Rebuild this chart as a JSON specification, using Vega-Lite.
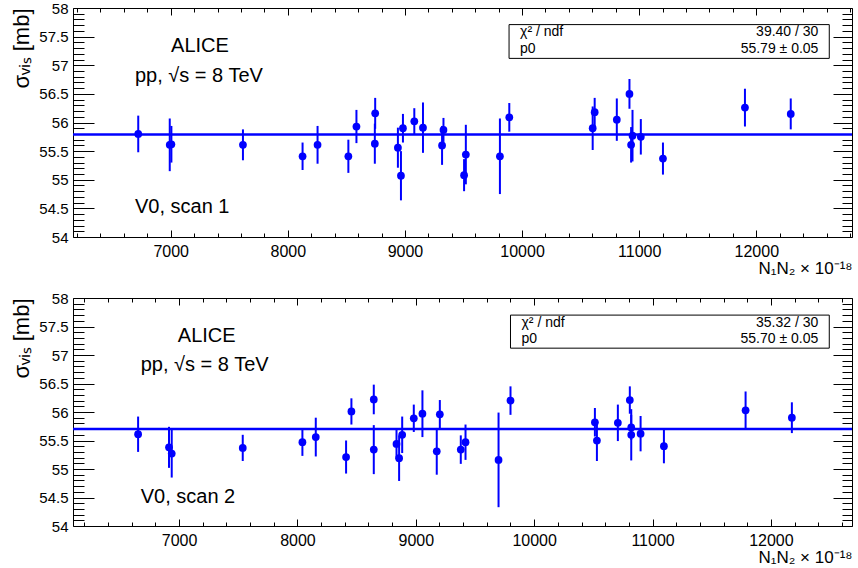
{
  "$schema": "https://vega.github.io/schema/vega-lite/v6.json",
  "background": "white",
  "padding": {"left": 10, "top": 0, "right": 0, "bottom": 0},
  "config": {
    "font": "Liberation Sans",
    "view": {"stroke": "black", "strokeWidth": 1},
    "axis": {"domain": false, "grid": false, "tickColor": "black", "labelColor": "black", "titleColor": "black", "tickWidth": 1, "titleFontWeight": "normal"}
  },
  "datasets": {
    "scan1": [
      {"x": 6723, "y": 55.80, "e": 0.32},
      {"x": 6992, "y": 55.61, "e": 0.46},
      {"x": 7006, "y": 55.62, "e": 0.32},
      {"x": 7617, "y": 55.61, "e": 0.27},
      {"x": 8126, "y": 55.41, "e": 0.24},
      {"x": 8254, "y": 55.61, "e": 0.33},
      {"x": 8517, "y": 55.41, "e": 0.29},
      {"x": 8586, "y": 55.93, "e": 0.29},
      {"x": 8746, "y": 56.16, "e": 0.27},
      {"x": 8743, "y": 55.63, "e": 0.35},
      {"x": 8940, "y": 55.56, "e": 0.35},
      {"x": 8966, "y": 55.07, "e": 0.43},
      {"x": 8983, "y": 55.90, "e": 0.25},
      {"x": 9080, "y": 56.02, "e": 0.23},
      {"x": 9154, "y": 55.91, "e": 0.44},
      {"x": 9317, "y": 55.60, "e": 0.34},
      {"x": 9329, "y": 55.87, "e": 0.21},
      {"x": 9505, "y": 55.08, "e": 0.28},
      {"x": 9520, "y": 55.44, "e": 0.52},
      {"x": 9811, "y": 55.41, "e": 0.66},
      {"x": 9891, "y": 56.09, "e": 0.25},
      {"x": 10603, "y": 55.90, "e": 0.38},
      {"x": 10620, "y": 56.18, "e": 0.25},
      {"x": 10809, "y": 56.05, "e": 0.37},
      {"x": 10917, "y": 56.50, "e": 0.26},
      {"x": 10931, "y": 55.61, "e": 0.31},
      {"x": 10943, "y": 55.77, "e": 0.45},
      {"x": 11014, "y": 55.75, "e": 0.31},
      {"x": 11203, "y": 55.37, "e": 0.28},
      {"x": 11903, "y": 56.26, "e": 0.33},
      {"x": 12294, "y": 56.15, "e": 0.27}
    ],
    "scan2": [
      {"x": 6654, "y": 55.61, "e": 0.31},
      {"x": 6915, "y": 55.38, "e": 0.36},
      {"x": 6938, "y": 55.27, "e": 0.42},
      {"x": 7538, "y": 55.37, "e": 0.23},
      {"x": 8042, "y": 55.47, "e": 0.24},
      {"x": 8155, "y": 55.56, "e": 0.34},
      {"x": 8411, "y": 55.21, "e": 0.29},
      {"x": 8456, "y": 56.01, "e": 0.23},
      {"x": 8645, "y": 56.22, "e": 0.26},
      {"x": 8645, "y": 55.34, "e": 0.43},
      {"x": 8837, "y": 55.44, "e": 0.26},
      {"x": 8859, "y": 55.19, "e": 0.40},
      {"x": 8885, "y": 55.60, "e": 0.32},
      {"x": 8983, "y": 55.89, "e": 0.24},
      {"x": 9056, "y": 55.97, "e": 0.41},
      {"x": 9177, "y": 55.31, "e": 0.41},
      {"x": 9203, "y": 55.96, "e": 0.25},
      {"x": 9380, "y": 55.34, "e": 0.25},
      {"x": 9420, "y": 55.47, "e": 0.31},
      {"x": 9699, "y": 55.16, "e": 0.83},
      {"x": 9800, "y": 56.20, "e": 0.25},
      {"x": 10513, "y": 55.82, "e": 0.25},
      {"x": 10530, "y": 55.50, "e": 0.36},
      {"x": 10707, "y": 55.81, "e": 0.32},
      {"x": 10808, "y": 56.21, "e": 0.24},
      {"x": 10820, "y": 55.73, "e": 0.22},
      {"x": 10820, "y": 55.60, "e": 0.45},
      {"x": 10899, "y": 55.62, "e": 0.31},
      {"x": 11096, "y": 55.40, "e": 0.30},
      {"x": 11786, "y": 56.03, "e": 0.33},
      {"x": 12177, "y": 55.90, "e": 0.27}
    ]
  },
  "vconcat": [
    {
      "width": 779,
      "height": 229,
      "resolve": {"axis": {"x": "independent", "y": "independent"}},
      "layer": [
        {
          "data": {"name": "scan1"},
          "mark": {"type": "errorbar", "ticks": false, "color": "#0000ff", "thickness": 2},
          "encoding": {
            "x": {"field": "x", "type": "quantitative", "scale": {"domain": [6166, 12817], "nice": false, "zero": false},
                  "axis": {"orient": "bottom", "values": [6200,6400,6600,6800,7200,7400,7600,7800,8200,8400,8600,8800,9200,9400,9600,9800,10200,10400,10600,10800,11200,11400,11600,11800,12200,12400,12600,12800], "tickSize": -4, "labels": false, "title": null}},
            "y": {"field": "y", "type": "quantitative", "scale": {"domain": [54, 58], "nice": false, "zero": false},
                  "axis": {"orient": "left", "values": [54.1,54.2,54.3,54.4,54.6,54.7,54.8,54.9,55.1,55.2,55.3,55.4,55.6,55.7,55.8,55.9,56.1,56.2,56.3,56.4,56.6,56.7,56.8,56.9,57.1,57.2,57.3,57.4,57.6,57.7,57.8,57.9], "tickSize": -11, "labels": false, "title": null}},
            "yError": {"field": "e"}
          }
        },
        {
          "data": {"name": "scan1"},
          "mark": {"type": "point", "filled": true, "size": 60, "color": "#0000ff", "opacity": 1},
          "encoding": {
            "x": {"field": "x", "type": "quantitative",
                  "axis": {"orient": "bottom", "values": [7000,8000,9000,10000,11000,12000], "format": "d", "tickSize": -7, "labelPadding": 13, "labelFontSize": 16, "title": "N₁N₂ × 10⁻¹⁸", "titleFontSize": 17, "titleAnchor": "end", "titlePadding": 1}},
            "y": {"field": "y", "type": "quantitative",
                  "axis": {"orient": "left", "values": [54,54.5,55,55.5,56,56.5,57,57.5,58], "format": ".1~f", "tickSize": -21, "labelPadding": 26, "labelFontSize": 15, "title": "σᵥᵢₛ [mb]", "titleFontSize": 22, "titleAnchor": "end", "titlePadding": 5}}
          }
        },
        {
          "data": {"name": "scan1"},
          "mark": {"type": "point", "opacity": 0},
          "encoding": {
            "x": {"field": "x", "type": "quantitative",
                  "axis": {"orient": "top", "values": [7000,8000,9000,10000,11000,12000], "tickSize": -7, "labels": false, "title": null}},
            "y": {"field": "y", "type": "quantitative",
                  "axis": {"orient": "right", "values": [54,54.5,55,55.5,56,56.5,57,57.5,58], "tickSize": -19, "labels": false, "title": null}}
          }
        },
        {
          "data": {"name": "scan1"},
          "mark": {"type": "point", "opacity": 0},
          "encoding": {
            "x": {"field": "x", "type": "quantitative",
                  "axis": {"orient": "top", "values": [6200,6400,6600,6800,7200,7400,7600,7800,8200,8400,8600,8800,9200,9400,9600,9800,10200,10400,10600,10800,11200,11400,11600,11800,12200,12400,12600,12800], "tickSize": -4, "labels": false, "title": null}},
            "y": {"field": "y", "type": "quantitative",
                  "axis": {"orient": "right", "values": [54.1,54.2,54.3,54.4,54.6,54.7,54.8,54.9,55.1,55.2,55.3,55.4,55.6,55.7,55.8,55.9,56.1,56.2,56.3,56.4,56.6,56.7,56.8,56.9,57.1,57.2,57.3,57.4,57.6,57.7,57.8,57.9], "tickSize": -10, "labels": false, "title": null}}
          }
        },
        {
          "data": {"values": [{}]},
          "mark": {"type": "rule", "color": "#0000ff", "strokeWidth": 2.5},
          "encoding": {"y": {"datum": 55.79, "type": "quantitative", "axis": null}}
        },
        {
          "data": {"values": [{}]},
          "mark": {"type": "rect", "fill": "white", "stroke": "black", "strokeWidth": 1},
          "encoding": {
            "x": {"datum": 9889, "type": "quantitative", "axis": null}, "x2": {"datum": 12623},
            "y": {"datum": 57.71, "type": "quantitative", "axis": null}, "y2": {"datum": 57.12}
          }
        },
        {
          "data": {"values": [{}]},
          "mark": {"type": "text", "text": "χ² / ndf", "align": "left", "baseline": "middle", "fontSize": 14, "color": "black"},
          "encoding": {"x": {"datum": 9983, "type": "quantitative", "axis": null}, "y": {"datum": 57.58, "type": "quantitative", "axis": null}}
        },
        {
          "data": {"values": [{}]},
          "mark": {"type": "text", "text": "p0", "align": "left", "baseline": "middle", "fontSize": 14, "color": "black"},
          "encoding": {"x": {"datum": 9983, "type": "quantitative", "axis": null}, "y": {"datum": 57.28, "type": "quantitative", "axis": null}}
        },
        {
          "data": {"values": [{}]},
          "mark": {"type": "text", "text": "39.40 / 30", "align": "right", "baseline": "middle", "fontSize": 14, "color": "black"},
          "encoding": {"x": {"datum": 12530, "type": "quantitative", "axis": null}, "y": {"datum": 57.58, "type": "quantitative", "axis": null}}
        },
        {
          "data": {"values": [{}]},
          "mark": {"type": "text", "text": "55.79 ± 0.05", "align": "right", "baseline": "middle", "fontSize": 14, "color": "black"},
          "encoding": {"x": {"datum": 12530, "type": "quantitative", "axis": null}, "y": {"datum": 57.28, "type": "quantitative", "axis": null}}
        },
        {
          "data": {"values": [{}]},
          "mark": {"type": "text", "text": "ALICE", "align": "center", "baseline": "middle", "fontSize": 20, "color": "black"},
          "encoding": {"x": {"datum": 7250, "type": "quantitative", "axis": null}, "y": {"datum": 57.34, "type": "quantitative", "axis": null}}
        },
        {
          "data": {"values": [{}]},
          "mark": {"type": "text", "text": "pp, √s = 8 TeV", "align": "left", "baseline": "middle", "fontSize": 20, "color": "black"},
          "encoding": {"x": {"datum": 6695, "type": "quantitative", "axis": null}, "y": {"datum": 56.82, "type": "quantitative", "axis": null}}
        },
        {
          "data": {"values": [{}]},
          "mark": {"type": "text", "text": "V0, scan 1", "align": "left", "baseline": "middle", "fontSize": 20, "color": "black"},
          "encoding": {"x": {"datum": 6695, "type": "quantitative", "axis": null}, "y": {"datum": 54.52, "type": "quantitative", "axis": null}}
        }
      ]
    },
    {
      "width": 779,
      "height": 228,
      "resolve": {"axis": {"x": "independent", "y": "independent"}},
      "layer": [
        {
          "data": {"name": "scan2"},
          "mark": {"type": "errorbar", "ticks": false, "color": "#0000ff", "thickness": 2},
          "encoding": {
            "x": {"field": "x", "type": "quantitative", "scale": {"domain": [6104, 12685], "nice": false, "zero": false},
                  "axis": {"orient": "bottom", "values": [6200,6400,6600,6800,7200,7400,7600,7800,8200,8400,8600,8800,9200,9400,9600,9800,10200,10400,10600,10800,11200,11400,11600,11800,12200,12400,12600], "tickSize": -4, "labels": false, "title": null}},
            "y": {"field": "y", "type": "quantitative", "scale": {"domain": [54, 58], "nice": false, "zero": false},
                  "axis": {"orient": "left", "values": [54.1,54.2,54.3,54.4,54.6,54.7,54.8,54.9,55.1,55.2,55.3,55.4,55.6,55.7,55.8,55.9,56.1,56.2,56.3,56.4,56.6,56.7,56.8,56.9,57.1,57.2,57.3,57.4,57.6,57.7,57.8,57.9], "tickSize": -11, "labels": false, "title": null}},
            "yError": {"field": "e"}
          }
        },
        {
          "data": {"name": "scan2"},
          "mark": {"type": "point", "filled": true, "size": 60, "color": "#0000ff", "opacity": 1},
          "encoding": {
            "x": {"field": "x", "type": "quantitative",
                  "axis": {"orient": "bottom", "values": [7000,8000,9000,10000,11000,12000], "format": "d", "tickSize": -7, "labelPadding": 13, "labelFontSize": 16, "title": "N₁N₂ × 10⁻¹⁸", "titleFontSize": 17, "titleAnchor": "end", "titlePadding": 1}},
            "y": {"field": "y", "type": "quantitative",
                  "axis": {"orient": "left", "values": [54,54.5,55,55.5,56,56.5,57,57.5,58], "format": ".1~f", "tickSize": -21, "labelPadding": 26, "labelFontSize": 15, "title": "σᵥᵢₛ [mb]", "titleFontSize": 22, "titleAnchor": "end", "titlePadding": 5}}
          }
        },
        {
          "data": {"name": "scan2"},
          "mark": {"type": "point", "opacity": 0},
          "encoding": {
            "x": {"field": "x", "type": "quantitative",
                  "axis": {"orient": "top", "values": [7000,8000,9000,10000,11000,12000], "tickSize": -7, "labels": false, "title": null}},
            "y": {"field": "y", "type": "quantitative",
                  "axis": {"orient": "right", "values": [54,54.5,55,55.5,56,56.5,57,57.5,58], "tickSize": -19, "labels": false, "title": null}}
          }
        },
        {
          "data": {"name": "scan2"},
          "mark": {"type": "point", "opacity": 0},
          "encoding": {
            "x": {"field": "x", "type": "quantitative",
                  "axis": {"orient": "top", "values": [6200,6400,6600,6800,7200,7400,7600,7800,8200,8400,8600,8800,9200,9400,9600,9800,10200,10400,10600,10800,11200,11400,11600,11800,12200,12400,12600], "tickSize": -4, "labels": false, "title": null}},
            "y": {"field": "y", "type": "quantitative",
                  "axis": {"orient": "right", "values": [54.1,54.2,54.3,54.4,54.6,54.7,54.8,54.9,55.1,55.2,55.3,55.4,55.6,55.7,55.8,55.9,56.1,56.2,56.3,56.4,56.6,56.7,56.8,56.9,57.1,57.2,57.3,57.4,57.6,57.7,57.8,57.9], "tickSize": -10, "labels": false, "title": null}}
          }
        },
        {
          "data": {"values": [{}]},
          "mark": {"type": "rule", "color": "#0000ff", "strokeWidth": 2.5},
          "encoding": {"y": {"datum": 55.70, "type": "quantitative", "axis": null}}
        },
        {
          "data": {"values": [{}]},
          "mark": {"type": "rect", "fill": "white", "stroke": "black", "strokeWidth": 1},
          "encoding": {
            "x": {"datum": 9800, "type": "quantitative", "axis": null}, "x2": {"datum": 12493},
            "y": {"datum": 57.70, "type": "quantitative", "axis": null}, "y2": {"datum": 57.12}
          }
        },
        {
          "data": {"values": [{}]},
          "mark": {"type": "text", "text": "χ² / ndf", "align": "left", "baseline": "middle", "fontSize": 14, "color": "black"},
          "encoding": {"x": {"datum": 9893, "type": "quantitative", "axis": null}, "y": {"datum": 57.56, "type": "quantitative", "axis": null}}
        },
        {
          "data": {"values": [{}]},
          "mark": {"type": "text", "text": "p0", "align": "left", "baseline": "middle", "fontSize": 14, "color": "black"},
          "encoding": {"x": {"datum": 9893, "type": "quantitative", "axis": null}, "y": {"datum": 57.28, "type": "quantitative", "axis": null}}
        },
        {
          "data": {"values": [{}]},
          "mark": {"type": "text", "text": "35.32 / 30", "align": "right", "baseline": "middle", "fontSize": 14, "color": "black"},
          "encoding": {"x": {"datum": 12400, "type": "quantitative", "axis": null}, "y": {"datum": 57.56, "type": "quantitative", "axis": null}}
        },
        {
          "data": {"values": [{}]},
          "mark": {"type": "text", "text": "55.70 ± 0.05", "align": "right", "baseline": "middle", "fontSize": 14, "color": "black"},
          "encoding": {"x": {"datum": 12400, "type": "quantitative", "axis": null}, "y": {"datum": 57.28, "type": "quantitative", "axis": null}}
        },
        {
          "data": {"values": [{}]},
          "mark": {"type": "text", "text": "ALICE", "align": "center", "baseline": "middle", "fontSize": 20, "color": "black"},
          "encoding": {"x": {"datum": 7234, "type": "quantitative", "axis": null}, "y": {"datum": 57.34, "type": "quantitative", "axis": null}}
        },
        {
          "data": {"values": [{}]},
          "mark": {"type": "text", "text": "pp, √s = 8 TeV", "align": "left", "baseline": "middle", "fontSize": 20, "color": "black"},
          "encoding": {"x": {"datum": 6676, "type": "quantitative", "axis": null}, "y": {"datum": 56.82, "type": "quantitative", "axis": null}}
        },
        {
          "data": {"values": [{}]},
          "mark": {"type": "text", "text": "V0, scan 2", "align": "left", "baseline": "middle", "fontSize": 20, "color": "black"},
          "encoding": {"x": {"datum": 6676, "type": "quantitative", "axis": null}, "y": {"datum": 54.51, "type": "quantitative", "axis": null}}
        }
      ]
    }
  ],
  "spacing": 61,
  "bounds": "flush"
}
